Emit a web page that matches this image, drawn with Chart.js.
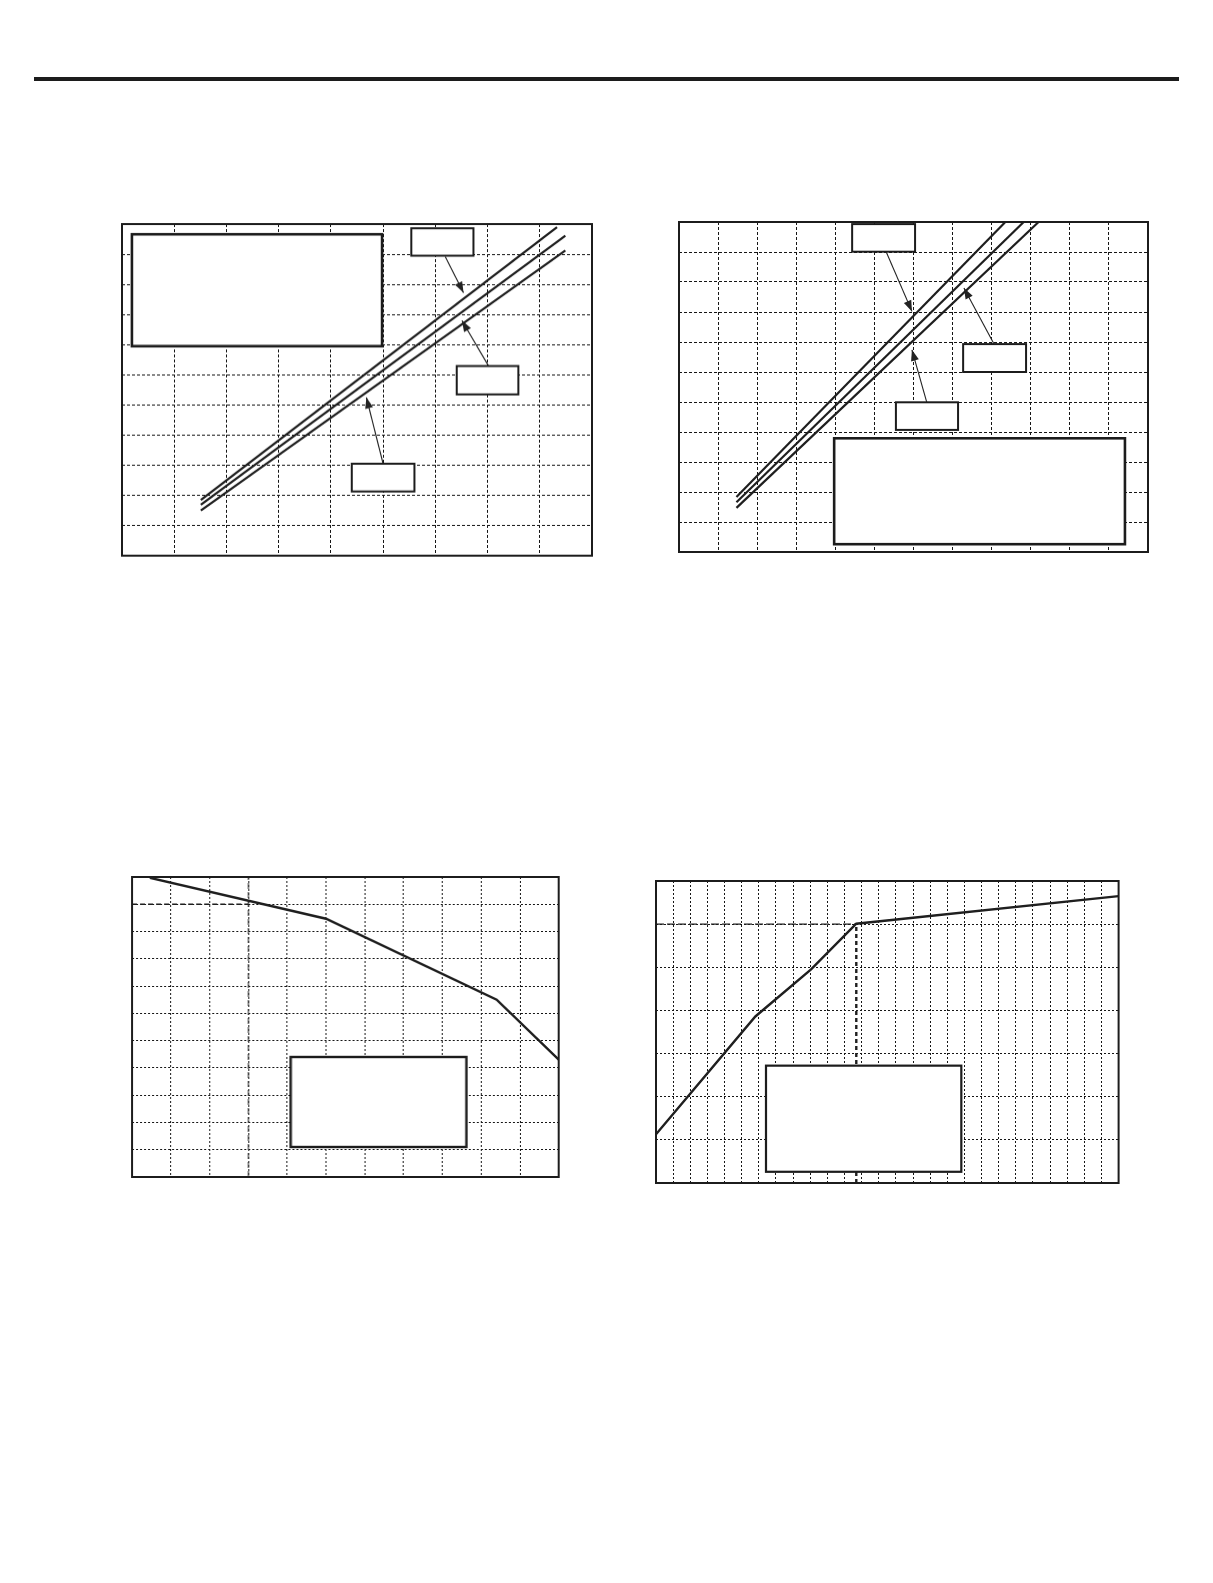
<!DOCTYPE html>
<html>
<head>
<meta charset="utf-8">
<script src="https://cdn.jsdelivr.net/npm/chart.js@4.4.1/dist/chart.umd.min.js"></script>
<style>
  body { margin: 0; background: #fff; width: 1213px; height: 1583px; position: relative; overflow: hidden; }
  .rule { position: absolute; left: 34px; top: 77px; width: 1145px; height: 4px; background: #1c1c1c; }
  .plot { position: absolute; }
</style>
</head>
<body>
<div class="rule"></div>
<div class="plot" id="w1"><canvas id="fig1"></canvas></div>
<div class="plot" id="w2"><canvas id="fig2"></canvas></div>
<div class="plot" id="w3"><canvas id="fig3"></canvas></div>
<div class="plot" id="w4"><canvas id="fig4"></canvas></div>
<script>
// --- values (grid units, y counted upward) ---

// fig 1: three straight lines
const fig1Upper = [[1.51, 1.85], [8.33, 10.90]];
const fig1Middle = [[1.51, 1.69], [8.49, 10.61]];
const fig1Lower = [[1.51, 1.50], [8.49, 10.12]];

// fig 2: three steeper lines, clipped at the top
const fig2Upper = [[1.47, 1.83], [8.35, 11]];
const fig2Middle = [[1.47, 1.66], [8.82, 11]];
const fig2Lower = [[1.47, 1.47], [9.20, 11]];

// fig 3: falling curve and its marker point
const fig3Curve = [[0.46, 10.97], [5.0, 9.47], [9.40, 6.50], [11, 4.30]];
const fig3MarkX = 3;
const fig3MarkY = 10;

// fig 4: rising curve with a knee
const fig4Curve = [[0, 1.13], [5.80, 3.86], [9.05, 4.95], [11.69, 6.01], [27, 6.65]];
const fig4MarkX = 11.69;
const fig4MarkY = 6;

const toPts = arr => arr.map(p => ({ x: p[0], y: p[1] }));

// draws the white label boxes, the arrows and the frame
const plotFrame = {
    id: 'plotFrame',
    afterDatasetsDraw(chart, args, opts) {
        const { ctx, chartArea: a, scales: { x, y } } = chart;
        ctx.save();
        (opts.boxes || []).forEach(b => {
            const l = x.getPixelForValue(b[0]), r = x.getPixelForValue(b[1]);
            const t = y.getPixelForValue(b[3]), bt = y.getPixelForValue(b[2]);
            ctx.fillStyle = '#fff';
            ctx.fillRect(l, t, r - l, bt - t);
            ctx.lineWidth = b[4] || 2;
            ctx.strokeStyle = '#1c1c1c';
            ctx.strokeRect(l, t, r - l, bt - t);
        });
        (opts.arrows || []).forEach(ar => {
            const x0 = x.getPixelForValue(ar[0]), y0 = y.getPixelForValue(ar[1]);
            const x1 = x.getPixelForValue(ar[2]), y1 = y.getPixelForValue(ar[3]);
            const ang = Math.atan2(y1 - y0, x1 - x0);
            ctx.strokeStyle = '#222';
            ctx.lineWidth = 1.1;
            ctx.beginPath();
            ctx.moveTo(x0, y0);
            ctx.lineTo(x1, y1);
            ctx.stroke();
            ctx.fillStyle = '#222';
            ctx.beginPath();
            ctx.moveTo(x1, y1);
            ctx.lineTo(x1 - 11 * Math.cos(ang) + 4 * Math.sin(ang), y1 - 11 * Math.sin(ang) - 4 * Math.cos(ang));
            ctx.lineTo(x1 - 11 * Math.cos(ang) - 4 * Math.sin(ang), y1 - 11 * Math.sin(ang) + 4 * Math.cos(ang));
            ctx.closePath();
            ctx.fill();
        });
        ctx.strokeStyle = '#1c1c1c';
        ctx.lineWidth = 2;
        ctx.strokeRect(a.left, a.top, a.width, a.height);
        ctx.restore();
    }
};

const PAD = 6;

function makeChart(id, wrap, area, xMax, yMax, dash, datasets, extras) {
    const w = document.getElementById(wrap);
    w.style.left = (area[0] - PAD) + 'px';
    w.style.top = (area[1] - PAD) + 'px';
    w.style.width = (area[2] - area[0] + 2 * PAD) + 'px';
    w.style.height = (area[3] - area[1] + 2 * PAD) + 'px';

    const axis = (max) => ({
        type: 'linear',
        min: 0,
        max: max,
        ticks: { display: false, stepSize: 1 },
        grid: { color: '#161616', lineWidth: 1, drawTicks: false },
        border: { display: false, dash: dash }
    });

    return new Chart(document.getElementById(id), {
        type: 'line',
        data: { datasets: datasets },
        options: {
            responsive: true,
            maintainAspectRatio: false,
            animation: false,
            layout: { padding: PAD },
            elements: { point: { radius: 0 } },
            plugins: {
                legend: { display: false },
                tooltip: { enabled: false },
                plotFrame: extras
            },
            scales: { x: axis(xMax), y: axis(yMax) }
        },
        plugins: [plotFrame]
    });
}

const solid = (pts, width) => ({
    data: toPts(pts), borderColor: '#1f1f1f', borderWidth: width, tension: 0, fill: false
});
const dashed = (pts, width, d) => ({
    data: toPts(pts), borderColor: '#1f1f1f', borderWidth: width, borderDash: d, tension: 0, fill: false
});

document.addEventListener('DOMContentLoaded', () => {
    makeChart('fig1', 'w1', [121.7, 224.3, 591.7, 555], 9, 11, [3, 2],
        [solid(fig1Upper, 2.2), solid(fig1Middle, 2.2), solid(fig1Lower, 2.2)],
        {
            boxes: [[0.19, 4.98, 6.95, 10.66, 2.6], [5.54, 6.73, 9.95, 10.86], [6.41, 7.59, 5.35, 6.29], [4.40, 5.60, 2.13, 3.05]],
            arrows: [[6.19, 9.92, 6.54, 8.72], [7.02, 6.29, 6.51, 7.80], [5.0, 3.05, 4.68, 5.25]]
        });

    makeChart('fig2', 'w2', [679.3, 222.3, 1148.3, 552.3], 12, 11, [3, 2],
        [solid(fig2Upper, 2.2), solid(fig2Middle, 2.2), solid(fig2Lower, 2.2)],
        {
            boxes: [[4.43, 6.04, 10.01, 10.93], [7.27, 8.88, 6.0, 6.93], [5.55, 7.14, 4.07, 4.99], [3.97, 11.41, 0.26, 3.79, 2.6]],
            arrows: [[5.30, 10.01, 5.96, 8.02], [8.06, 6.93, 7.29, 8.80], [6.34, 4.99, 5.96, 6.74]]
        });

    makeChart('fig3', 'w3', [132.3, 877.3, 558, 1177.3], 11, 11, [2, 2],
        [
            solid(fig3Curve, 2.4),
            dashed([[0, fig3MarkY], [fig3MarkX, fig3MarkY]], 1.6, [5, 3]),
            dashed([[fig3MarkX, 0], [fig3MarkX, 11]], 1, [6, 3])
        ],
        { boxes: [[4.09, 8.62, 1.10, 4.40, 2.4]] });

    makeChart('fig4', 'w4', [655.7, 880.7, 1118.3, 1182.7], 27, 7, [2, 2],
        [
            solid(fig4Curve, 2.4),
            dashed([[0, fig4MarkY], [fig4MarkX, fig4MarkY]], 1.2, [8, 3]),
            dashed([[fig4MarkX, 0], [fig4MarkX, fig4MarkY]], 2.4, [4, 3])
        ],
        { boxes: [[6.42, 17.82, 0.26, 2.72, 2.2]] });
});
</script>
</body>
</html>
